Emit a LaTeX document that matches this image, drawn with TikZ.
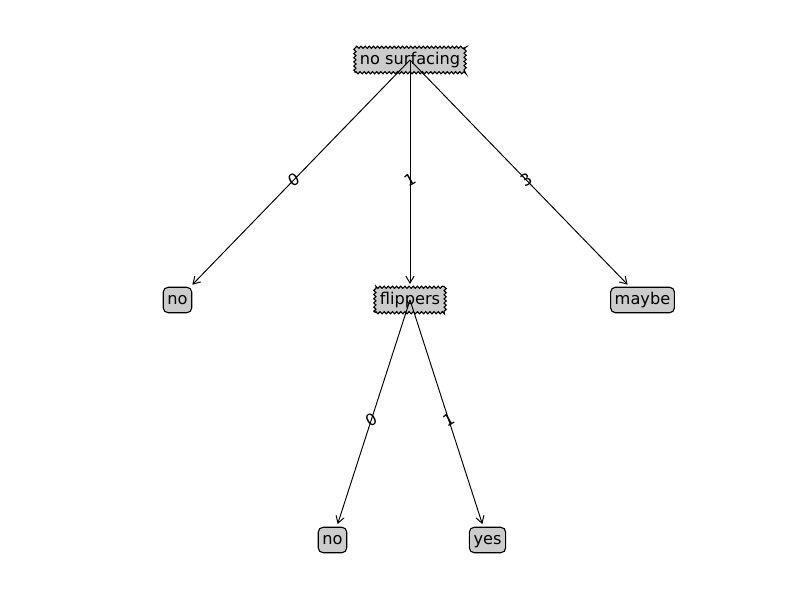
\documentclass[tikz,border=0pt]{standalone}
\usepackage{fontspec}
\setmainfont{DejaVu Sans}
\usetikzlibrary{arrows.meta,decorations.pathmorphing}
\begin{document}
\begin{tikzpicture}[x=0.01in,y=-0.01in,
  font=\fontsize{11.7}{14}\selectfont,
  base/.style={fill=black!20, draw=black, line width=0.8pt, text height=9.2pt, text depth=2.6pt, inner ysep=3.3pt},
  decision/.style={base, inner xsep=3.6pt, decorate, decoration={zigzag, segment length=3pt, amplitude=0.8pt}},
  leaf/.style={base, inner xsep=3pt, rounded corners=3.5pt},
  arr/.style={-{Straight Barb[length=5pt,width=6pt]}, line width=0.7pt, shorten >=2pt},
  elabel/.style={rotate=30, inner sep=0pt}
]
\useasboundingbox (0,0) rectangle (800,600);
\node[decision] (root) at (410,60) {no surfacing};
\node[leaf] (no1) at (177.5,300) {no};
\node[decision] (flip) at (410,300) {flippers};
\node[leaf] (maybe) at (642.5,300) {maybe};
\node[leaf] (no2) at (332.5,540) {no};
\node[leaf] (yes) at (487.5,540) {yes};
\draw[arr] (root.center) -- (no1);
\draw[arr] (root.center) -- (flip);
\draw[arr] (root.center) -- (maybe);
\draw[arr] (flip.center) -- (no2);
\draw[arr] (flip.center) -- (yes);
\node[elabel] (l1) at (293.75,180) {0};
\node[elabel] (l2) at (410,180) {1};
\node[elabel] (l3) at (526.25,180) {3};
\node[elabel] (l4) at (371.25,420) {0};
\node[elabel] (l5) at (448.75,420) {1};
\end{tikzpicture}
\end{document}
